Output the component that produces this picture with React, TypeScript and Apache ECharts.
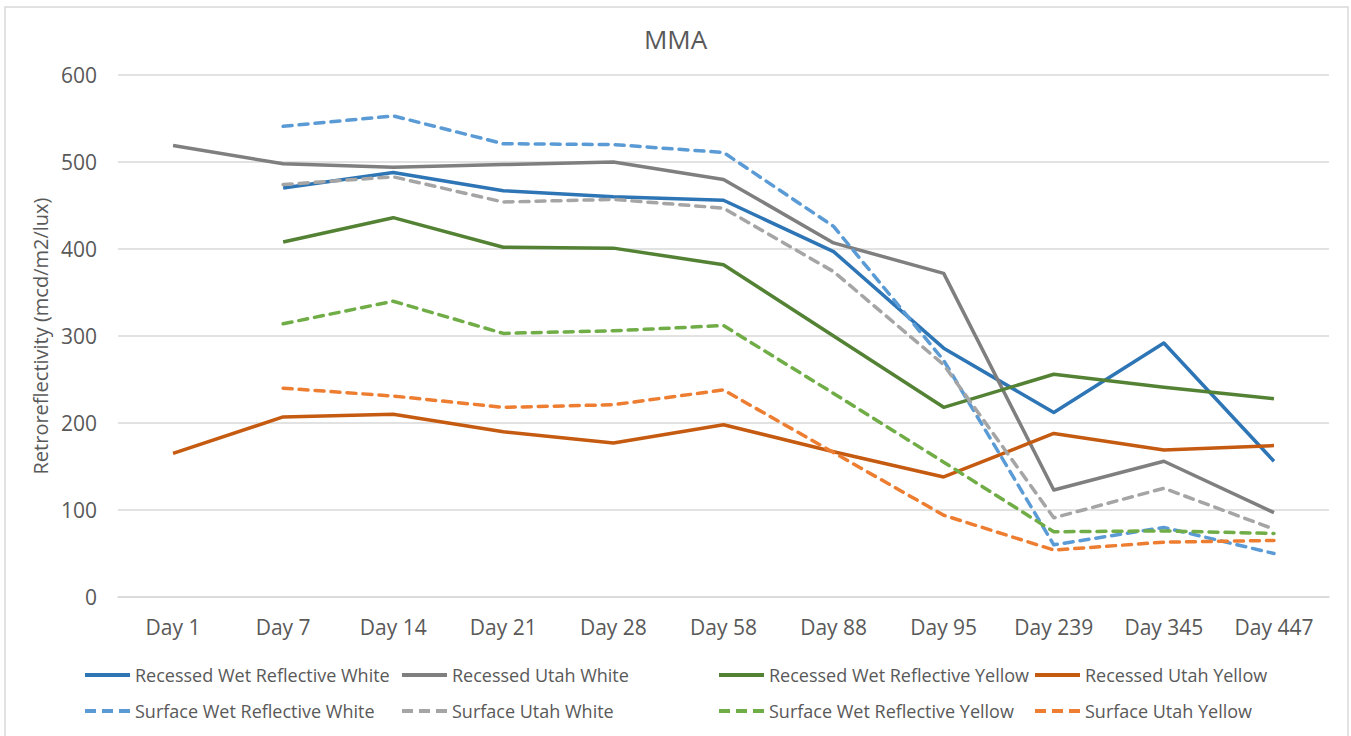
import React, { useEffect, useRef } from "react";
import * as echarts from "echarts";

const categories = ["Day 1", "Day 7", "Day 14", "Day 21", "Day 28", "Day 58", "Day 88", "Day 95", "Day 239", "Day 345", "Day 447"];
const yTicks = [0, 100, 200, 300, 400, 500, 600];

const recessedWetWhite = [null, 470, 488, 467, 460, 456, 397, 286, 212, 292, 156];
const recessedUtahWhite = [519, 498, 494, 497, 500, 480, 407, 372, 123, 156, 97];
const recessedWetYellow = [null, 408, 436, 402, 401, 382, 300, 218, 256, 241, 228];
const recessedUtahYellow = [165, 207, 210, 190, 177, 198, 167, 138, 188, 169, 174];
const surfaceWetWhite = [null, 541, 553, 521, 520, 511, 426, 272, 60, 80, 50];
const surfaceUtahWhite = [null, 474, 483, 454, 457, 447, 374, 267, 91, 125, 78];
const surfaceWetYellow = [null, 314, 340, 303, 306, 312, 234, 155, 75, 76, 73];
const surfaceUtahYellow = [null, 240, 231, 218, 221, 238, 166, 94, 54, 63, 65];

const seriesDefs = [
  { name: "Recessed Wet Reflective White", data: recessedWetWhite, color: "#2E75B6", dashed: false },
  { name: "Recessed Utah White", data: recessedUtahWhite, color: "#7F7F7F", dashed: false },
  { name: "Recessed Wet Reflective Yellow", data: recessedWetYellow, color: "#548235", dashed: false },
  { name: "Recessed Utah Yellow", data: recessedUtahYellow, color: "#C55A11", dashed: false },
  { name: "Surface Wet Reflective White", data: surfaceWetWhite, color: "#5B9BD5", dashed: true },
  { name: "Surface Utah White", data: surfaceUtahWhite, color: "#A5A5A5", dashed: true },
  { name: "Surface Wet Reflective Yellow", data: surfaceWetYellow, color: "#70AD47", dashed: true },
  { name: "Surface Utah Yellow", data: surfaceUtahYellow, color: "#ED7D31", dashed: true },
];

const FONT = "'Open Sans', sans-serif";
const SOLID_ICON = "path://M0,0H45V4H0Z";
const DASH_ICON = "path://M0,0H11V4H0Z M17,0H28V4H17Z M34,0H45V4H34Z";

export default function App() {
  const ref = useRef<HTMLDivElement>(null);
  useEffect(() => {
    if (!ref.current) return;
    const chart = echarts.init(ref.current, undefined, { renderer: "svg" });
    const legendCols = [85, 402, 719, 1035];
    const legendRows = [666, 702];
    const legends = seriesDefs.map((s, i) => ({
      data: [{ name: s.name, icon: s.dashed ? DASH_ICON : SOLID_ICON, itemStyle: { color: s.color } }],
      left: legendCols[i % 4],
      top: legendRows[Math.floor(i / 4)],
      padding: 0,
      itemWidth: 45,
      itemHeight: 4,
      textStyle: { color: "#595959", fontSize: 18, fontFamily: FONT },
      selectedMode: false,
    }));
    chart.setOption({
      animation: false,
      backgroundColor: "#ffffff",
      title: {
        text: "MMA",
        left: "center",
        top: 21,
        textStyle: { color: "#595959", fontSize: 26, fontWeight: "normal", fontFamily: FONT },
      },
      legend: legends,
      grid: { left: 118, right: 22, top: 75, bottom: 139, containLabel: false },
      xAxis: {
        type: "category",
        data: categories,
        boundaryGap: true,
        axisLine: { show: true, lineStyle: { color: "#d9d9d9", width: 1.5 } },
        axisTick: { show: false },
        axisLabel: { color: "#595959", fontSize: 21, fontFamily: FONT, margin: 19 },
      },
      yAxis: {
        type: "value",
        min: yTicks[0],
        max: yTicks[yTicks.length - 1],
        interval: 100,
        name: "Retroreflectivity (mcd/m2/lux)",
        nameLocation: "middle",
        nameGap: 63,
        nameTextStyle: { color: "#595959", fontSize: 20, fontFamily: FONT },
        axisLine: { show: false },
        axisTick: { show: false },
        axisLabel: { color: "#595959", fontSize: 21, fontFamily: FONT, margin: 21 },
        splitLine: { lineStyle: { color: "#d9d9d9", width: 1.5 } },
      },
      graphic: [
        {
          type: "rect",
          shape: { x: 5, y: 7, width: 1343, height: 740 },
          style: { fill: "none", stroke: "#d9d9d9", lineWidth: 1.5 },
          silent: true,
        },
      ],
      series: seriesDefs.map((s) => ({
        name: s.name,
        type: "line",
        data: s.data,
        symbol: "none",
        connectNulls: false,
        color: s.color,
        lineStyle: {
          color: s.color,
          width: 3.5,
          type: s.dashed ? [9, 7] : "solid",
          cap: s.dashed ? "round" : "butt",
          join: "round",
        },
      })),
    });
    return () => chart.dispose();
  }, []);
  return <div ref={ref} style={{ position: "fixed", left: 0, top: 0, width: 1351, height: 736 }} />;
}
